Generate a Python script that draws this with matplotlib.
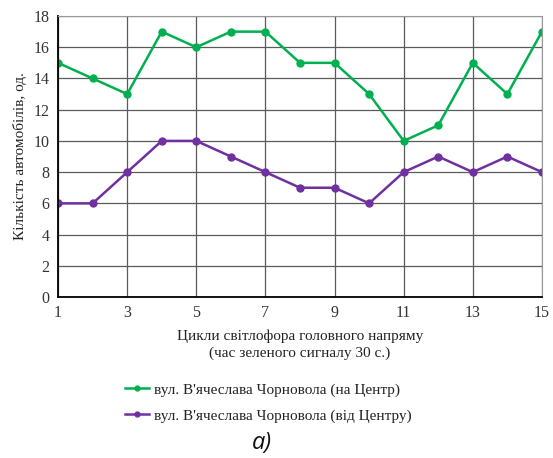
import matplotlib
matplotlib.use('Agg')
import matplotlib.pyplot as plt

# data
cycles = list(range(1, 16))
to_centre = [15, 14, 13, 17, 16, 17, 17, 15, 15, 13, 10, 11, 15, 13, 17]
from_centre = [6, 6, 8, 10, 10, 9, 8, 7, 7, 6, 8, 9, 8, 9, 8]
x_ticks = [1, 3, 5, 7, 9, 11, 13, 15]
y_ticks = list(range(0, 19, 2))

label_to = "вул. В'ячеслава Чорновола (на Центр)"
label_from = "вул. В'ячеслава Чорновола (від Центру)"

plt.rcParams['font.family'] = ['Liberation Serif', 'DejaVu Serif']

fig = plt.figure(figsize=(5.53, 4.58), dpi=100)
ax = fig.add_axes([0.105, 0.3515, 0.875, 0.6135])

ax.plot(cycles, to_centre, color='#00b050', lw=1.8, marker='o', ms=5, label=label_to)
ax.plot(cycles, from_centre, color='#7030a0', lw=1.8, marker='o', ms=5, label=label_from)

ax.set_xlim(1, 15)
ax.set_ylim(0, 18)
ax.set_xticks(x_ticks)
ax.set_yticks(y_ticks)
ax.grid(True, color='#5a5a5a', lw=0.9)
ax.set_axisbelow(True)
for s in ['top', 'right']:
    ax.spines[s].set_color('#999999')
for s in ['left', 'bottom']:
    ax.spines[s].set_color('black')
    ax.spines[s].set_linewidth(1.3)
ax.tick_params(length=0, labelsize=11.5, pad=6, colors='#333333')

ax.set_xlabel('Цикли світлофора головного напряму\n(час зеленого сигналу 30 с.)',
              fontsize=11, linespacing=1.3, color='#222222', labelpad=6)
ax.set_ylabel('Кількість автомобілів, од.', fontsize=11, color='#222222', labelpad=5)

leg = fig.legend(loc='center', bbox_to_anchor=(0.485, 0.12), ncol=1, frameon=False,
                 fontsize=11, handlelength=1.6, handletextpad=0.3, labelspacing=0.8,
                 markerscale=0.7)
for t in leg.get_texts():
    t.set_color('#222222')

fig.text(0.474, 0.033, 'а)', fontsize=17, style='italic', family='Open Sans',
         ha='center', va='center', color='#111111')

fig.savefig('out.png', dpi=100)
